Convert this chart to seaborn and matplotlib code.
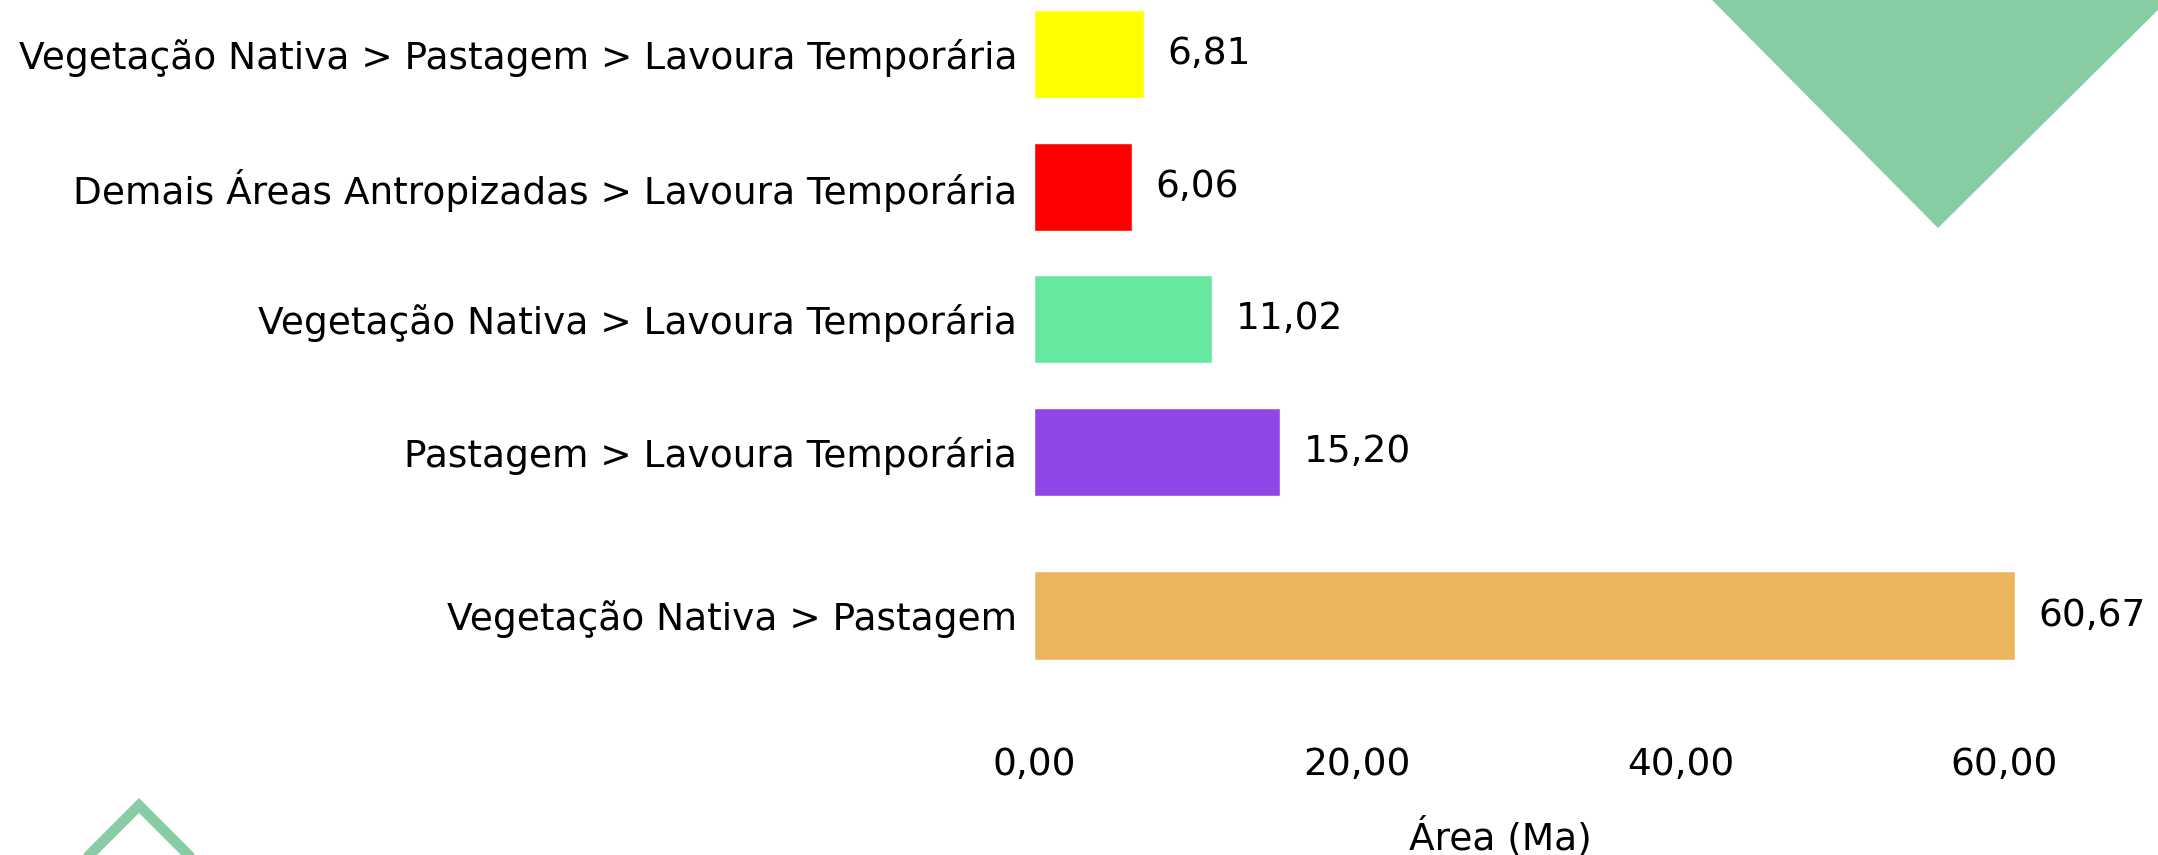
import matplotlib
matplotlib.use("Agg")
import matplotlib.pyplot as plt
import seaborn as sns
import pandas as pd
from matplotlib.patches import Polygon
from matplotlib.lines import Line2D
from matplotlib.ticker import FixedLocator, FuncFormatter

# ---- data ----
categories = [
    "Vegetação Nativa > Pastagem > Lavoura Temporária",
    "Demais Áreas Antropizadas > Lavoura Temporária",
    "Vegetação Nativa > Lavoura Temporária",
    "Pastagem > Lavoura Temporária",
    "Vegetação Nativa > Pastagem",
]
values = [6.81, 6.06, 11.02, 15.20, 60.67]
colors = ["#FFFF00", "#FF0000", "#66E8A0", "#9146E8", "#EAB55C"]
x_ticks = [0, 20, 40, 60]
x_label = "Área (Ma)"

df = pd.DataFrame({"cat": categories, "val": values})
pal = dict(zip(categories, colors))

sns.set_theme(style="white")
plt.rcParams["font.family"] = ["DejaVu Sans"]
FS = 27

W, H = 2158, 855
fig = plt.figure(figsize=(W / 100, H / 100), dpi=100)
fig.patch.set_facecolor("white")

def fx(px):
    return px / W

def fy(py):
    return 1 - py / H

left = fx(1034)
width = 1 - left
xmax = (W - 1034) / 16.17

ax_top = fig.add_axes([left, fy(518.3), width, (518.3 - 0.93) / H])
ax_bot = fig.add_axes([left, fy(683), width, 135 / H])

top_df = df.iloc[:4]
bot_df = df.iloc[4:]

def fmt(v):
    return f"{v:.2f}".replace(".", ",")

for ax, d, w, ylim in [(ax_top, top_df, 0.663, (3.5, -0.4)),
                       (ax_bot, bot_df, 0.659, (0.5, -0.5))]:
    sns.barplot(data=d, x="val", y="cat", hue="cat", palette=pal, order=list(d["cat"]),
                hue_order=list(d["cat"]), width=w, dodge=False, legend=False,
                orient="h", ax=ax, saturation=1)
    for cont in ax.containers:
        ax.bar_label(cont, labels=[fmt(p.get_width()) for p in cont], padding=17,
                     fontsize=FS, color="black")
    ax.set_xlim(0, xmax)
    ax.set_ylim(*ylim)
    ax.set_ylabel("")
    for s in ax.spines.values():
        s.set_visible(False)
    ax.tick_params(axis="y", length=0, pad=12, labelsize=FS, labelcolor="black")
    ax.set_facecolor("none")

ax_top.set_xlabel("")
ax_top.set_xticks([])
ax_bot.xaxis.set_major_locator(FixedLocator(x_ticks))
ax_bot.xaxis.set_major_formatter(FuncFormatter(lambda v, p: fmt(v)))
ax_bot.tick_params(axis="x", length=0, pad=46, labelsize=FS, labelcolor="black")
ax_bot.set_xlabel(x_label, fontsize=FS, color="black")
ax_bot.xaxis.label.set_va("center")
ax_bot.xaxis.set_label_coords((1500 - 1034) / (W - 1034), -(837 - 683) / 135)

# decorative shapes
green = "#87CCA3"
tri = Polygon([(fx(1710), fy(-2)), (fx(2170), fy(-2)), (fx(1938), fy(228))],
              closed=True, transform=fig.transFigure, facecolor=green,
              edgecolor="none", zorder=0)
fig.patches.append(tri)
chev = Line2D([fx(139 - 200), fx(139), fx(139 + 200)],
              [fy(805.5 + 200), fy(805.5), fy(805.5 + 200)],
              transform=fig.transFigure, color=green, linewidth=7.6,
              solid_joinstyle="miter", zorder=0)
fig.lines.append(chev)

fig.savefig("out.png", dpi=100, facecolor="white")
